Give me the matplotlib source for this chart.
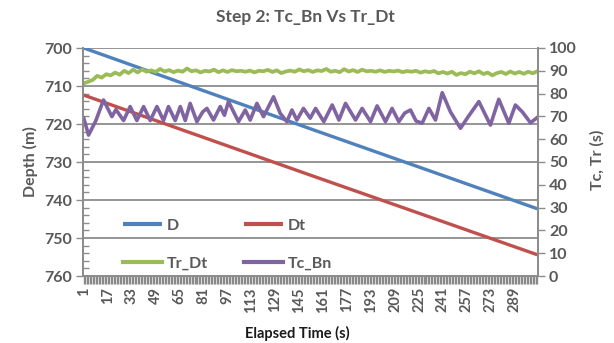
import numpy as np
import matplotlib
matplotlib.use("Agg")
import matplotlib.pyplot as plt
from matplotlib.ticker import MultipleLocator, FixedLocator

plt.rcParams['font.family'] = ['Lato', 'DejaVu Sans']

# ---------------- data ----------------
N_POINTS = 304
tick_labels = [1, 17, 33, 49, 65, 81, 97, 113, 129, 145, 161, 177, 193, 209, 225, 241, 257, 273, 289]

# Depth series (m), read at start / middle / end
d_x = [1, 152, 304]
d_vals = [700.0, 721.2, 742.3]
dt_x = [1, 152, 304]
dt_vals = [712.4, 733.4, 754.4]

# Tr_Dt (s), sampled every 3 elapsed seconds
tr_x = list(range(1, 305, 3))
tr_vals = [84.5, 85.2, 86.0, 87.8, 87.0, 88.5, 88.0, 89.2, 88.3, 90.0,
           89.0, 90.5, 89.3, 90.6, 89.6, 90.2, 89.5, 90.8, 89.7, 90.3,
           89.4, 90.1, 89.6, 91.0, 89.8, 90.2, 89.3, 90.0, 89.7, 90.5,
           89.4, 90.2, 89.5, 90.3, 89.8, 90.0, 89.6, 90.1, 89.3, 90.0,
           89.8, 90.4, 89.5, 90.2, 89.0, 89.7, 90.1, 89.6, 90.6, 89.8,
           90.3, 89.5, 90.2, 89.9, 90.8, 89.6, 90.0, 89.4, 90.7, 89.7,
           90.3, 89.5, 90.5, 89.8, 90.0, 89.6, 90.2, 89.5, 90.0, 89.7,
           90.1, 89.4, 89.9, 89.6, 90.0, 89.2, 89.8, 89.4, 89.9, 88.9,
           89.5, 88.8, 89.6, 88.2, 89.0, 88.5, 89.6, 88.9, 89.8, 88.6,
           89.2, 88.0, 89.0, 89.5, 88.6, 89.7, 88.8, 89.5, 88.7, 89.6,
           88.9, 89.8]

# Tc_Bn (s), peaks and troughs
tc_x = [1, 4.2, 9, 14.2, 19.8, 22.5, 27.6, 32, 36.5, 41, 45.4, 49.9, 54.3,
        57.6, 62.1, 65.5, 68.8, 72.1, 76.6, 80.5, 83.3, 87.7, 92.2, 95,
        97.7, 104.4, 108.9, 112.2, 116.7, 121.1, 127.8, 132.3, 136.7, 140.1,
        143.4, 147.8, 152.3, 155.9, 161.4, 167, 171.5, 175.9, 182.6, 187,
        192.6, 197, 202.6, 207, 211.5, 215.5, 219.3, 223, 227.1, 231.6, 236,
        240.5, 246, 252.7, 258, 265, 272.7, 278.3, 285, 289.4, 294, 299.5,
        304]
tc_vals = [69.2, 61.8, 68.0, 77.2, 69.9, 73.0, 68.2, 74.3, 68.2, 74.3, 68.2,
           74.3, 68.2, 74.3, 68.2, 74.3, 68.2, 75.7, 67.7, 72.0, 73.5, 68.4,
           74.3, 70.5, 76.5, 67.7, 72.8, 68.4, 75.7, 69.9, 78.6, 71.3, 67.7,
           72.8, 68.4, 73.5, 69.2, 73.5, 67.7, 75.0, 68.4, 75.7, 68.4, 73.5,
           67.7, 74.6, 67.7, 73.5, 67.7, 71.5, 72.8, 68.0, 67.0, 73.5, 68.4,
           80.4, 72.0, 64.8, 70.0, 76.5, 66.2, 77.5, 67.0, 75.0, 72.0, 67.2,
           69.5]

series_names = ['D', 'Dt', 'Tr_Dt', 'Tc_Bn']
colors = ['#4F81BD', '#C0504D', '#9BBB59', '#8064A2']

# ---------------- figure ----------------
W, H = 614, 343
fig = plt.figure(figsize=(W / 100, H / 100), dpi=100)
L, R, T, B = 83, 538, 48, 276
ax = fig.add_axes([L / W, 1 - B / H, (R - L) / W, (B - T) / H])
ax2 = ax.twinx()

grey_txt = '#595959'
grey_line = '#8c8c8c'
lw = 2.4

hD, = ax.plot(d_x, d_vals, color=colors[0], lw=lw, solid_capstyle='butt')
hDt, = ax.plot(dt_x, dt_vals, color=colors[1], lw=lw, solid_capstyle='butt')
hTr, = ax2.plot(tr_x, tr_vals, color=colors[2], lw=2.7, solid_joinstyle='round')
hTc, = ax2.plot(tc_x, tc_vals, color=colors[3], lw=2.6, solid_joinstyle='round')

ax.set_xlim(0.5, N_POINTS + 0.5)
ax.set_ylim(760, 700)
ax2.set_ylim(0, 100)

# left axis
ax.yaxis.set_major_locator(MultipleLocator(10))
ax.yaxis.set_minor_locator(MultipleLocator(2))
ax.tick_params(axis='y', which='major', direction='out', length=5, width=1,
               color=grey_line, labelcolor=grey_txt, labelsize=11.5, pad=3)
ax.tick_params(axis='y', which='minor', direction='in', length=4, width=1,
               color=grey_line)
ax.yaxis.grid(True, which='major', color=grey_line, lw=1.3)
ax.set_axisbelow(True)

# right axis
ax2.yaxis.set_major_locator(MultipleLocator(10))
ax2.tick_params(axis='y', which='major', direction='out', length=5, width=1,
                color=grey_line, labelcolor=grey_txt, labelsize=11.5, pad=3)

# x axis: a tick at every category
ax.xaxis.set_major_locator(FixedLocator(tick_labels))
ax.set_xticklabels([str(t) for t in tick_labels], rotation=90)
ax.xaxis.set_minor_locator(FixedLocator(list(range(1, N_POINTS + 1))))
ax.tick_params(axis='x', which='both', direction='out', length=6, width=1,
               color='#8a8a8a')
ax.tick_params(axis='x', which='major', labelcolor=grey_txt, labelsize=10.5, pad=2)

for a in (ax, ax2):
    a.spines['top'].set_visible(False)
    for s in ('left', 'right', 'bottom'):
        a.spines[s].set_color(grey_line)
        a.spines[s].set_linewidth(1.3)

for lab in ax.get_yticklabels() + ax2.get_yticklabels() + ax.get_xticklabels():
    lab.set_fontweight('bold')

# legend
leg = ax2.legend([hD, hTr, hDt, hTc], ['D', 'Tr_Dt', 'Dt', 'Tc_Bn'], ncol=2,
                 loc='upper left', bbox_to_anchor=((117 - L) / (R - L), (B - 212) / (B - T)),
                 frameon=False, handlelength=2.4, handletextpad=0.3,
                 columnspacing=2.3, labelspacing=1.5, borderaxespad=0,
                 prop={'weight': 'bold', 'size': 11.5})
for t in leg.get_texts():
    t.set_color(grey_txt)
for h in leg.get_lines():
    h.set_linewidth(3)

# titles
fig.text(305 / W, 1 - 17 / H, 'Step 2: Tc_Bn Vs Tr_Dt', ha='center', va='center',
         fontsize=12.5, fontweight='bold', color=grey_txt)
fig.text(30 / W, 1 - 162 / H, 'Depth (m)', ha='center', va='center', rotation=90,
         fontsize=11.5, fontweight='bold', color=grey_txt)
fig.text(597 / W, 1 - 160 / H, 'Tc, Tr (s)', ha='center', va='center', rotation=90,
         fontsize=11.5, fontweight='bold', color=grey_txt)
fig.text(297 / W, 1 - 333 / H, 'Elapsed Time (s)', ha='center', va='center',
         fontsize=10.5, fontweight='bold', color='#1a1a1a')

fig.savefig('out.png', dpi=100)
